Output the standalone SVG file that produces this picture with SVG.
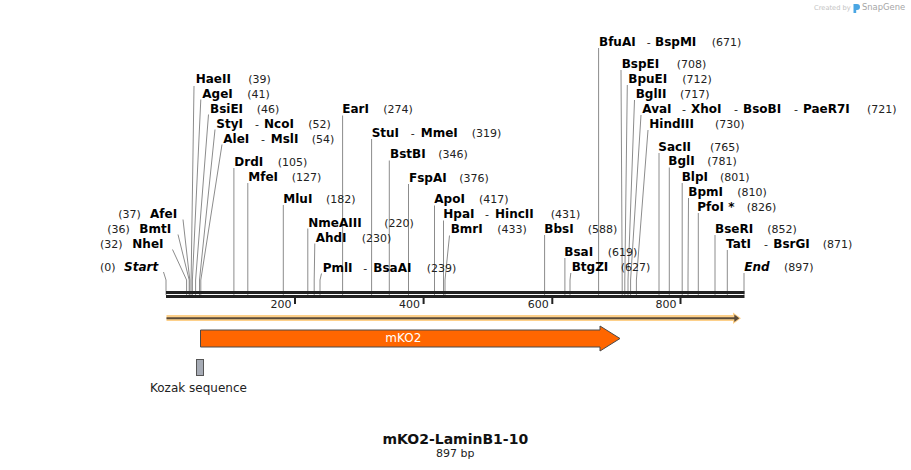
<svg xmlns="http://www.w3.org/2000/svg" width="911" height="470" viewBox="0 0 911 470">
<style>
.n{font-family:"DejaVu Sans",Verdana,sans-serif;font-weight:bold;font-size:12px;fill:#000}
.it{font-style:italic}
.c{font-family:"DejaVu Sans",Verdana,sans-serif;font-size:11px;fill:#222}
.cut{stroke:#8c8c8c;stroke-width:1;fill:none}
.bar{fill:#222}
.tick{fill:#222}
.tl{font-family:"DejaVu Sans",Verdana,sans-serif;font-size:11px;fill:#222;text-anchor:end}
</style>
<rect width="911" height="470" fill="#fff"/>
<g id="watermark">
<text x="814" y="10.3" font-family="DejaVu Sans,sans-serif" font-size="6.7" fill="#c4c4c4">Created by</text>
<path d="M853.5 4 h3.5 a3 3 0 0 1 0 6 h-0.8 v3 h-2.7 z" fill="#4aa6e3"/>
<text x="862" y="10.3" font-family="DejaVu Sans,sans-serif" font-size="8.4" fill="#a6a6a6">SnapGene</text>
</g>
<g id="connectors">
<path class="cut" d="M191.1 295V280L194 86"/>
<path class="cut" d="M192.4 295V280L200.8 99.5"/>
<path class="cut" d="M195.6 295V280L208.5 114.5"/>
<path class="cut" d="M199.5 295V280L215 129.5"/>
<path class="cut" d="M200.8 295V280L222 144.5"/>
<path class="cut" d="M233.9 295V168"/>
<path class="cut" d="M247.8 295V183"/>
<path class="cut" d="M283.3 295V205"/>
<path class="cut" d="M307.8 295V228.5"/>
<path class="cut" d="M314.2 295V280L314.8 243.5"/>
<path class="cut" d="M320 295V280L321.5 273.5"/>
<path class="cut" d="M342.6 295V115.5"/>
<path class="cut" d="M371.6 295V139"/>
<path class="cut" d="M389.3 295V160.5"/>
<path class="cut" d="M408.5 295V184"/>
<path class="cut" d="M434.5 295V205.5"/>
<path class="cut" d="M443.5 295V220.5"/>
<path class="cut" d="M445 295V280L449.5 235.5"/>
<path class="cut" d="M544.6 295V235"/>
<path class="cut" d="M564.9 295V258"/>
<path class="cut" d="M570 295V280L570.8 273"/>
<path class="cut" d="M598.6 295V48"/>
<path class="cut" d="M622.2 295V280L621 70"/>
<path class="cut" d="M624.8 295V280L627.3 85"/>
<path class="cut" d="M628 295V280L634.5 100"/>
<path class="cut" d="M630.6 295V280L641 115"/>
<path class="cut" d="M636.4 295V280L648 130"/>
<path class="cut" d="M659 295V153"/>
<path class="cut" d="M669.3 295V167.5"/>
<path class="cut" d="M682.2 295V183"/>
<path class="cut" d="M688 295V280L688.5 198"/>
<path class="cut" d="M698.3 295V213"/>
<path class="cut" d="M715 295V235"/>
<path class="cut" d="M727.3 295V250"/>
<path class="cut" d="M744 295V273"/>
<path class="cut" d="M189.8 295V280L183 219.5"/>
<path class="cut" d="M189.2 295V280L178 234.5"/>
<path class="cut" d="M186.6 295V280L172.5 249.5"/>
<path class="cut" d="M166 295V280L163.5 272"/>
</g>
<g id="backbone">
<rect class="bar" x="166" y="291" width="578.5" height="3"/>
<rect class="bar" x="166" y="295" width="578.5" height="3"/>
<rect class="tick" x="294" y="298" width="2" height="6"/>
<rect class="tick" x="422.6" y="298" width="2" height="6"/>
<rect class="tick" x="551.3" y="298" width="2" height="6"/>
<rect class="tick" x="679.5" y="298" width="2" height="6"/>
<text class="tl" x="291.5" y="307.5">200</text>
<text class="tl" x="420" y="307.5">400</text>
<text class="tl" x="548.7" y="307.5">600</text>
<text class="tl" x="676.5" y="307.5">800</text>
</g>
<g id="enz-HaeII"><text class="n" x="195.7" y="83.3">HaeII</text><text class="c" x="248.3" y="83.3">(39)</text></g>
<g id="enz-AgeI"><text class="n" x="202.3" y="97.7">AgeI</text><text class="c" x="247.3" y="97.7">(41)</text></g>
<g id="enz-BsiEI"><text class="n" x="210" y="112.7">BsiEI</text><text class="c" x="256.7" y="112.7">(46)</text></g>
<g id="enz-StyI-NcoI"><text class="n" x="216.3" y="127.7">StyI</text><text class="c" x="255" y="127.7">-</text><text class="n" x="264" y="127.7">NcoI</text><text class="c" x="308.3" y="127.7">(52)</text></g>
<g id="enz-AleI-MslI"><text class="n" x="223.3" y="142.7">AleI</text><text class="c" x="261" y="142.7">-</text><text class="n" x="270.7" y="142.7">MslI</text><text class="c" x="311.7" y="142.7">(54)</text></g>
<g id="enz-DrdI"><text class="n" x="234.3" y="166">DrdI</text><text class="c" x="277.7" y="166">(105)</text></g>
<g id="enz-MfeI"><text class="n" x="248.3" y="181">MfeI</text><text class="c" x="291.7" y="181">(127)</text></g>
<g id="enz-MluI"><text class="n" x="283.3" y="202.7">MluI</text><text class="c" x="326" y="202.7">(182)</text></g>
<g id="enz-NmeAIII"><text class="n" x="308.3" y="226.7">NmeAIII</text><text class="c" x="384.3" y="226.7">(220)</text></g>
<g id="enz-AhdI"><text class="n" x="315.7" y="241.7">AhdI</text><text class="c" x="361.7" y="241.7">(230)</text></g>
<g id="enz-PmlI-BsaAI"><text class="n" x="322.7" y="271.7">PmlI</text><text class="c" x="363.3" y="271.7">-</text><text class="n" x="373.3" y="271.7">BsaAI</text><text class="c" x="426.7" y="271.7">(239)</text></g>
<g id="enz-EarI"><text class="n" x="342.3" y="113.3">EarI</text><text class="c" x="383.3" y="113.3">(274)</text></g>
<g id="enz-StuI-MmeI"><text class="n" x="371.7" y="136.7">StuI</text><text class="c" x="410.7" y="136.7">-</text><text class="n" x="420.7" y="136.7">MmeI</text><text class="c" x="471.7" y="136.7">(319)</text></g>
<g id="enz-BstBI"><text class="n" x="390" y="158.3">BstBI</text><text class="c" x="438.3" y="158.3">(346)</text></g>
<g id="enz-FspAI"><text class="n" x="409" y="181.7">FspAI</text><text class="c" x="459.3" y="181.7">(376)</text></g>
<g id="enz-ApoI"><text class="n" x="434.3" y="203.3">ApoI</text><text class="c" x="479" y="203.3">(417)</text></g>
<g id="enz-HpaI-HincII"><text class="n" x="443.3" y="218.3">HpaI</text><text class="c" x="485" y="218.3">-</text><text class="n" x="495" y="218.3">HincII</text><text class="c" x="550.7" y="218.3">(431)</text></g>
<g id="enz-BmrI"><text class="n" x="450.7" y="233.3">BmrI</text><text class="c" x="497.3" y="233.3">(433)</text></g>
<g id="enz-BbsI"><text class="n" x="544.3" y="233.3">BbsI</text><text class="c" x="587.7" y="233.3">(588)</text></g>
<g id="enz-BsaI"><text class="n" x="564.3" y="256">BsaI</text><text class="c" x="607.7" y="256">(619)</text></g>
<g id="enz-BtgZI"><text class="n" x="571.7" y="271">BtgZI</text><text class="c" x="620.7" y="271">(627)</text></g>
<g id="enz-BfuAI-BspMI"><text class="n" x="599" y="45.7">BfuAI</text><text class="c" x="646.7" y="45.7">-</text><text class="n" x="655" y="45.7">BspMI</text><text class="c" x="711.7" y="45.7">(671)</text></g>
<g id="enz-BspEI"><text class="n" x="621.7" y="67.7">BspEI</text><text class="c" x="676.7" y="67.7">(708)</text></g>
<g id="enz-BpuEI"><text class="n" x="628.3" y="82.7">BpuEI</text><text class="c" x="682.3" y="82.7">(712)</text></g>
<g id="enz-BglII"><text class="n" x="635.7" y="97.7">BglII</text><text class="c" x="680" y="97.7">(717)</text></g>
<g id="enz-AvaI-XhoI-BsoBI-PaeR7I"><text class="n" x="642.3" y="112.7">AvaI</text><text class="c" x="682" y="112.7">-</text><text class="n" x="691" y="112.7">XhoI</text><text class="c" x="734" y="112.7">-</text><text class="n" x="743" y="112.7">BsoBI</text><text class="c" x="794" y="112.7">-</text><text class="n" x="803" y="112.7">PaeR7I</text><text class="c" x="867" y="112.7">(721)</text></g>
<g id="enz-HindIII"><text class="n" x="649.3" y="127.7">HindIII</text><text class="c" x="715" y="127.7">(730)</text></g>
<g id="enz-SacII"><text class="n" x="658.3" y="150.5">SacII</text><text class="c" x="710" y="150.5">(765)</text></g>
<g id="enz-BglI"><text class="n" x="668.3" y="165.3">BglI</text><text class="c" x="707.3" y="165.3">(781)</text></g>
<g id="enz-BlpI"><text class="n" x="681.7" y="180.5">BlpI</text><text class="c" x="720" y="180.5">(801)</text></g>
<g id="enz-BpmI"><text class="n" x="688.3" y="195.5">BpmI</text><text class="c" x="737.3" y="195.5">(810)</text></g>
<g id="enz-PfoI"><text class="n" x="697.3" y="210.5">PfoI *</text><text class="c" x="746.7" y="210.5">(826)</text></g>
<g id="enz-BseRI"><text class="n" x="715" y="232.7">BseRI</text><text class="c" x="767.3" y="232.7">(852)</text></g>
<g id="enz-TatI-BsrGI"><text class="n" x="726" y="247.7">TatI</text><text class="c" x="764" y="247.7">-</text><text class="n" x="773.3" y="247.7">BsrGI</text><text class="c" x="822.7" y="247.7">(871)</text></g>
<g id="enz-End"><text class="n it" x="744.3" y="270.7">End</text><text class="c" x="784" y="270.7">(897)</text></g>
<g id="enz-AfeI"><text class="c" x="118.3" y="218.3">(37)</text><text class="n" x="150" y="218.3">AfeI</text></g>
<g id="enz-BmtI"><text class="c" x="107.3" y="233.3">(36)</text><text class="n" x="139.3" y="233.3">BmtI</text></g>
<g id="enz-NheI"><text class="c" x="100" y="248.3">(32)</text><text class="n" x="132.3" y="248.3">NheI</text></g>
<g id="enz-Start"><text class="c" x="100" y="270.7">(0)</text><text class="n it" x="124" y="270.7">Start</text></g>
<g id="feature-full">
<path d="M166.5 318H737" stroke="#fdd08a" stroke-width="6" fill="none"/>
<path d="M733 312.5L741 318.3L733 324Z" fill="#fdd08a"/>
<path d="M166.5 318.2H735" stroke="#5a4b3a" stroke-width="2" fill="none"/>
<path d="M734.3 314.5L739.3 318.3L734.3 322Z" fill="#5a4b3a"/>
</g>
<g id="feature-mKO2">
<path d="M200.5 330H600V326L620 338.5L600 351V347H200.5Z" fill="#ff6600" stroke="#4a4a4a" stroke-width="1"/>
<text x="403.3" y="342" font-family="DejaVu Sans,sans-serif" font-size="12" fill="#fff" text-anchor="middle">mKO2</text>
</g>
<g id="feature-Kozak">
<rect x="196.5" y="359.5" width="7" height="16" fill="#a6abb5" stroke="#555" stroke-width="1"/>
<text x="150" y="392" font-family="DejaVu Sans,sans-serif" font-size="12" fill="#222">Kozak sequence</text>
</g>
<g id="title">
<text x="455.3" y="443.5" font-family="DejaVu Sans,sans-serif" font-weight="bold" font-size="14" fill="#111" text-anchor="middle">mKO2-LaminB1-10</text>
<text x="455.3" y="457" font-family="DejaVu Sans,sans-serif" font-size="11" fill="#222" text-anchor="middle">897 bp</text>
</g>
</svg>
